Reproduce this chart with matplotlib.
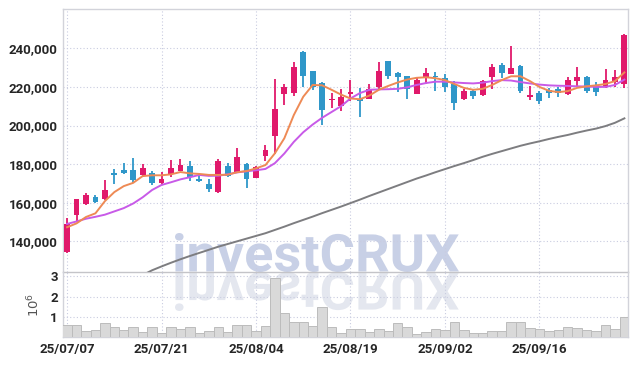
import matplotlib
matplotlib.use("Agg")
import matplotlib.pyplot as plt
import numpy as np
import pandas as pd
from matplotlib.textpath import TextPath
from matplotlib.patches import PathPatch
from matplotlib.font_manager import FontProperties
from matplotlib.transforms import Affine2D, IdentityTransform

# trading days (KRX, 15 Aug holiday)
dates = pd.bdate_range("2025-07-07", "2025-09-29", freq="C", holidays=["2025-08-15"])
tick_idx = [0, 10, 20, 30, 40, 50]

opens = [134500, 153600, 159300, 162800, 161700, 175600, 177000, 177000, 174200, 175600,
         170200, 174900, 176600, 179000, 172500, 169700, 165600, 179000, 175600, 180000,
         173000, 184400, 194700, 216500, 217000, 237900, 228200, 222000, 213000, 210300,
         216500, 213600, 213900, 220100, 233400, 227200, 225700, 216500, 224600, 225700,
         224500, 221700, 213700, 217900, 216000, 225300, 231200, 226700, 230800, 214900,
         216700, 218200, 218800, 216300, 223200, 225100, 220500, 220500, 222700, 221300]
closes = [149000, 161700, 163800, 160400, 166400, 174300, 175600, 171800, 178000, 170000,
          172300, 178000, 179700, 173500, 171300, 167300, 181800, 173800, 183700, 172100,
          178700, 187300, 208400, 220000, 230200, 225800, 219900, 208200, 213600, 214600,
          217600, 212900, 218800, 228200, 225800, 225300, 219100, 223600, 227200, 225200,
          220100, 211800, 217700, 215400, 222900, 230200, 227400, 229600, 218000, 215800,
          212900, 217000, 216700, 223600, 225100, 218000, 217400, 223600, 225300, 246700]
highs = [151900, 162000, 164800, 164200, 171700, 177600, 180500, 183000, 180000, 176400,
         175800, 182000, 182500, 181500, 174700, 172100, 182500, 180400, 188200, 180600,
         179200, 189900, 224000, 221300, 233100, 238600, 228300, 222400, 217000, 218800,
         223700, 219300, 221300, 232700, 233600, 227700, 225800, 224500, 229600, 227700,
         226800, 222900, 219100, 218300, 223600, 231900, 232400, 241400, 231300, 220500,
         218000, 219600, 220100, 225000, 230200, 225600, 222700, 229300, 228900, 247600]
lows = [134000, 150500, 158700, 159800, 161500, 169800, 174900, 170000, 173500, 169100,
        169900, 173500, 176200, 171300, 170800, 165500, 165200, 173200, 175200, 167800,
        172800, 181800, 185100, 210500, 215300, 220100, 218400, 200100, 209100, 207400,
        212700, 204300, 213500, 218400, 224000, 217200, 213600, 216300, 221700, 217700,
        217200, 207900, 213400, 213600, 215300, 218800, 224800, 226500, 216700, 213000,
        211000, 214200, 214800, 215800, 220000, 216700, 215200, 219200, 220100, 219200]

ma_short = [147300, 149300, 152600, 154500, 160800, 165500, 168600, 170300, 173800, 174200,
            174200, 174700, 175900, 175200, 174900, 174400, 174400, 174500, 175800, 176400,
            177800, 179500, 185600, 193400, 205400, 214900, 221000, 220800, 218500, 216000,
            214000, 213600, 215500, 218500, 220500, 222300, 223800, 224700, 225000, 224500,
            223500, 221500, 219500, 218500, 219000, 221000, 223500, 225500, 225500, 223000,
            220000, 218000, 217300, 217800, 219500, 220300, 220800, 221500, 223000, 227500]
ma_mid = [149000, 150300, 151700, 152700, 153800, 155500, 157200, 159600, 162800, 166600,
          169200, 170600, 172100, 173200, 174400, 173900, 174000, 174700, 175700, 176300,
          176800, 177500, 180500, 185500, 191500, 196500, 200500, 204000, 207000, 210000,
          214000, 216800, 218500, 218700, 218800, 219000, 219800, 221000, 222000, 222700,
          222700, 222300, 222000, 221800, 222200, 223000, 223500, 223300, 222500, 221800,
          221200, 220800, 220600, 220500, 220300, 220200, 220000, 220000, 221000, 223800]
ma_long = [np.nan] * 8 + [
    122500, 125000, 127000, 128900, 130700, 132400, 134000, 135600, 137200, 138600,
    140000, 141400, 142800, 144200, 145900, 147600, 149400, 151100, 152800, 154600,
    156300, 158000, 159800, 161600, 163500, 165300, 167100, 168900, 170700, 172500,
    174100, 175800, 177400, 179000, 180500, 182100, 183800, 185300, 186700, 188100,
    189500, 190700, 191800, 193000, 194100, 195100, 196300, 197400, 198400, 199700,
    201400, 203700]

volume_m = [0.61, 0.61, 0.32, 0.37, 0.69, 0.50, 0.37, 0.53, 0.25, 0.53,
            0.20, 0.53, 0.41, 0.50, 0.20, 0.30, 0.50, 0.27, 0.59, 0.59,
            0.30, 0.55, 2.89, 1.18, 0.77, 0.77, 0.55, 1.47, 0.53, 0.20,
            0.43, 0.43, 0.25, 0.40, 0.30, 0.69, 0.50, 0.15, 0.25, 0.40,
            0.35, 0.74, 0.35, 0.20, 0.20, 0.30, 0.30, 0.74, 0.74, 0.45,
            0.40, 0.30, 0.35, 0.50, 0.45, 0.35, 0.30, 0.59, 0.40, 0.99]

UP = "#e0196b"
DOWN = "#2f97c9"
GRID = "#c9cce0"
SPINE = "#d2d3da"
TXT = "#262626"

plt.rcParams["font.family"] = ["Roboto", "DejaVu Sans"]

fig = plt.figure(figsize=(6.37, 3.66), dpi=100)
ax = fig.add_axes([0.0994, 0.2568, 0.886, 0.7178])
axv = fig.add_axes([0.0994, 0.0779, 0.886, 0.1789], sharex=ax)
for a in (ax, axv):
    a.set_facecolor("none")
    for s in a.spines.values():
        s.set_color(SPINE)
        s.set_linewidth(1.0)
    a.grid(True, linestyle=(0, (1, 2)), color=GRID, linewidth=0.8)
    a.set_axisbelow(True)
    a.tick_params(length=0, pad=4, labelsize=9.5, labelcolor=TXT)
ax.spines["bottom"].set_color("#c4c4c8")
axv.spines["top"].set_visible(False)

# watermark with reflection (figure pixel coords)
tp = TextPath((0, 0), "investCRUX", size=50, prop=FontProperties(family="Roboto", weight="bold"))
ext = tp.get_extents()
x0, x1, base, top = 175, 459, 366 - 272, 366 - 233
sx = (x1 - x0) / ext.width
sy = (top - base) / ext.height
wm = Affine2D().translate(-ext.x0, -ext.y0).scale(sx, sy).translate(x0, base)
wm_r = Affine2D().translate(-ext.x0, -ext.y0).scale(sx, -sy).translate(x0, base)
fig.add_artist(PathPatch(tp, transform=wm + IdentityTransform(), facecolor="#c8d0e6",
                         edgecolor="none", zorder=-1))
fig.add_artist(PathPatch(tp, transform=wm_r + IdentityTransform(), facecolor="#e4e7ef",
                         edgecolor="none", zorder=-1))

x = np.arange(len(dates))
o = np.array(opens)
c = np.array(closes)
up = c >= o
colors = np.where(up, UP, DOWN)

ax.vlines(x, lows, highs, colors=colors, linewidth=1.3, zorder=3)
body_lo = np.minimum(o, c)
body_h = np.maximum(np.abs(c - o), 500)
ax.bar(x, body_h, bottom=body_lo, width=0.62, color=colors, zorder=4)

ax.plot(x, ma_long, color="#7d7d80", linewidth=1.4, zorder=5)
ax.plot(x, ma_mid, color="#c85ae8", linewidth=1.4, zorder=5)
ax.plot(x, ma_short, color="#ee8a55", linewidth=1.4, zorder=5)

ax.set_ylim(124100, 260200)
ax.set_yticks([140000, 160000, 180000, 200000, 220000, 240000])
ax.set_yticklabels([f"{v:,}" for v in [140000, 160000, 180000, 200000, 220000, 240000]],
                   fontweight="bold")
ax.tick_params(axis="x", labelbottom=False)

axv.bar(x, volume_m, width=1.0, color="#d9d9d9", edgecolor="#bcbcbc", linewidth=0.7, zorder=3)
axv.set_ylim(0, 3.2)
axv.set_yticks([1, 2, 3])
axv.set_yticklabels(["1", "2", "3"], fontweight="bold")
axv.set_ylabel(r"$10^6$", color="#555555", fontsize=9.5, labelpad=6)

axv.set_xlim(-0.4, 59.35)
axv.set_xticks(tick_idx)
axv.set_xticklabels([dates[i].strftime("%y/%m/%d") for i in tick_idx], fontweight="bold")

fig.savefig("out.png", dpi=100)
